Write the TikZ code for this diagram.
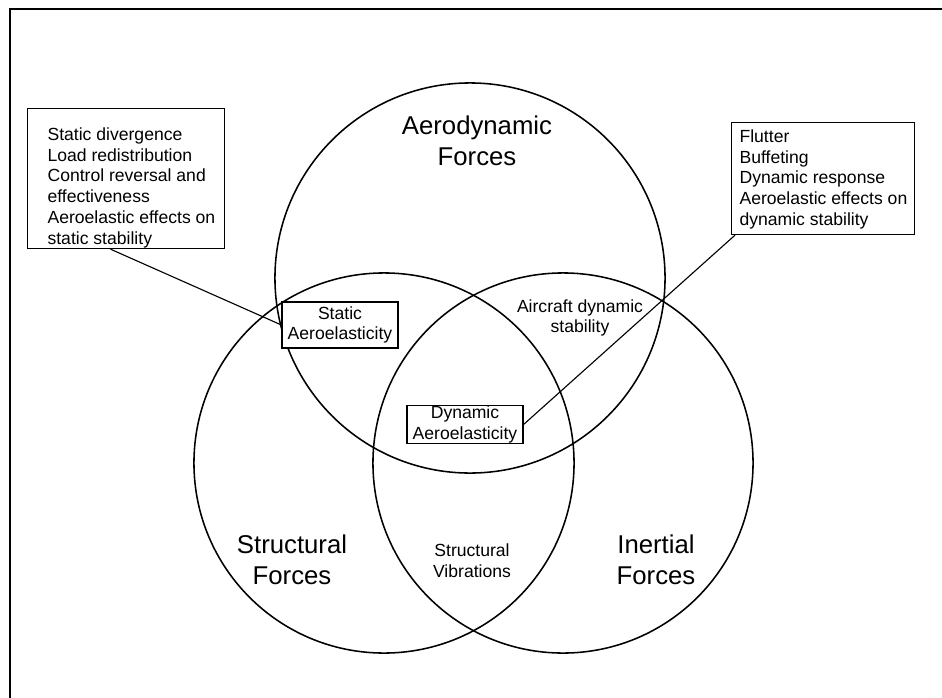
\documentclass[tikz,border=0pt]{standalone}
\usepackage{fontspec}
\setmainfont{Liberation Sans}
\usetikzlibrary{positioning}
\tikzset{
  forces/.style={circle, draw, line width=1.1pt, inner sep=0pt},
  bigtext/.style={align=center, font=\fontsize{18.3}{22}\selectfont},
  smalltext/.style={align=center, font=\fontsize{12.5}{14.8}\selectfont},
  listframe/.style={draw, line width=0.8pt, fill=white, inner sep=0pt},
  listtext/.style={align=left, inner sep=0pt, font=\fontsize{12.5}{14.8}\selectfont},
  effectbox/.style={draw, line width=0.8pt, fill=white, inner sep=0pt, align=center,
    minimum width=2.9cm, font=\fontsize{12.5}{14.8}\selectfont}
}
\begin{document}
\begin{tikzpicture}[x=0.025cm, y=-0.025cm, line width=0.8pt]
      \useasboundingbox (0,0) rectangle (942,698);
      %frame
      \draw[line width=1.4pt] (10,698) -- (10,9) -- (942,9);
      %circles
      \node[forces, minimum size=9.75cm] (aero) at (470,278) {};
      \node[forces, minimum size=9.5cm] (struct) at (384,463) {};
      \node[forces, minimum size=9.5cm] (inert) at (563,463) {};
      %labels
      \node[bigtext] (aerolabel) at (477,141) {Aerodynamic\\Forces};
      \node[bigtext] (structlabel) at (292,560) {Structural\\Forces};
      \node[bigtext] (inertlabel) at (656,560) {Inertial\\Forces};
      \node[smalltext] (craftlabel) at (580,318) {Aircraft dynamic\\stability};
      \node[smalltext] (vibrlabel) at (472,561) {Structural\\Vibrations};
      %boxes
      \node[effectbox, minimum height=1.15cm] (statbox) at (340,325) {Static\\Aeroelasticity};
      \node[effectbox, minimum height=0.925cm] (dynbox) at (465,424.5) {Dynamic\\Aeroelasticity};
      \node[listframe, anchor=north west, minimum width=4.925cm, minimum height=3.5cm] (divframe) at (27,108) {};
      \node[listtext, anchor=north west] (divtext) at (47,127) {Static divergence\\Load redistribution\\Control reversal and\\effectiveness\\Aeroelastic effects on\\static stability};
      \node[listframe, anchor=north west, minimum width=4.575cm, minimum height=2.8cm] (flutframe) at (731,122) {};
      \node[listtext, anchor=north west] (fluttext) at (739,129) {Flutter\\Buffeting\\Dynamic response\\Aeroelastic effects on\\dynamic stability};
      %callouts
      \draw ([xshift=-0.39cm]divframe.south) -- (statbox.west);
      \draw (dynbox.east) -- ([xshift=0.1cm]flutframe.south west);
\end{tikzpicture}
\end{document}
